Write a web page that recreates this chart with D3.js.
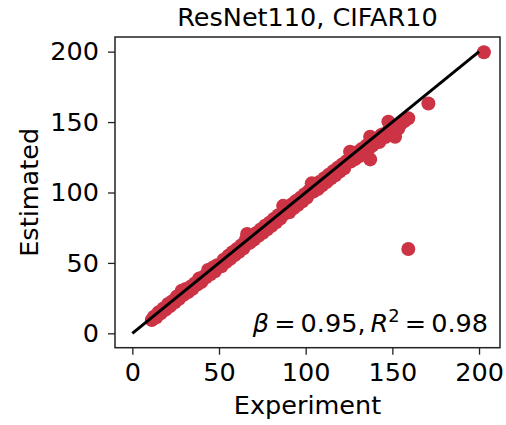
<!DOCTYPE html>
<html>
<head>
<meta charset="utf-8">
<script src="https://cdn.jsdelivr.net/npm/d3@7"></script>
<style>
  html, body { margin: 0; padding: 0; background: #fff; }
  svg text { font-family: "DejaVu Sans", sans-serif; fill: #000; }
</style>
</head>
<body>
<svg id="chart" width="506" height="425"></svg>
<script>
// Measured vs. estimated values for ResNet110 on CIFAR10
const experiment = [
  11.2, 12.5, 13.8, 15.1, 16.4, 17.9, 19.2, 20.6, 21.8, 23.1,
  24.5, 25.7, 27.0, 28.5, 29.6, 30.8, 32.2, 33.5, 34.7, 36.0,
  37.4, 38.6, 39.8, 41.1, 42.5, 43.7, 45.0, 46.3, 47.6, 48.9,
  50.2, 51.4, 52.7, 54.0, 55.3, 56.5, 57.8, 59.1, 60.3, 61.6,
  62.9, 64.1, 65.4, 66.2, 67.7, 69.0, 70.2, 71.5, 72.8, 74.0,
  75.3, 76.6, 77.8, 79.1, 80.4, 81.6, 82.9, 84.2, 85.4, 87.0,
  88.0, 89.3, 90.5, 91.8, 93.1, 94.3, 95.6, 96.9, 98.1, 99.4,
  100.7, 101.9, 103.5, 104.4, 105.7, 107.0, 108.2, 109.5, 110.8, 112.0,
  113.3, 114.6, 115.8, 117.1, 118.4, 119.6, 120.9, 122.2, 123.4, 125.6,
  126.0, 127.2, 128.5, 129.8, 131.0, 132.3, 133.6, 134.8, 136.1, 137.2,
  137.2, 138.5, 139.9, 141.0, 142.4, 143.6, 144.8, 146.0, 147.7, 148.3,
  149.5, 151.6, 152.0, 153.5, 155.0, 157.0, 159.2, 159.2, 170.8, 202.8
];
const estimated = [
  9.5, 11.8, 11.4, 14.9, 14.2, 17.6, 16.8, 20.9, 19.3, 22.8,
  22.0, 26.1, 24.5, 30.2, 27.4, 31.5, 29.4, 33.0, 31.6, 35.4,
  34.6, 38.9, 36.5, 40.2, 39.8, 45.0, 42.0, 46.5, 44.0, 48.3,
  47.5, 47.6, 52.3, 50.6, 55.0, 53.0, 57.6, 55.6, 59.9, 57.9,
  62.5, 60.4, 66.3, 70.5, 64.2, 68.7, 66.6, 71.3, 69.2, 73.8,
  71.4, 76.4, 73.9, 78.6, 76.3, 81.2, 78.8, 83.9, 81.5, 90.5,
  85.0, 88.7, 86.0, 91.4, 89.0, 93.9, 91.3, 96.2, 93.8, 98.8,
  96.4, 101.3, 106.5, 100.6, 104.9, 102.4, 107.6, 105.1, 110.1, 107.5,
  112.6, 110.0, 115.0, 112.2, 117.5, 114.9, 119.8, 117.1, 122.1, 129.0,
  122.0, 126.4, 123.7, 128.6, 125.8, 130.9, 128.0, 133.1, 130.3, 139.6,
  123.5, 133.4, 136.8, 137.0, 135.8, 140.9, 141.3, 139.4, 150.3, 145.0,
  142.6, 139.6, 147.4, 145.6, 149.0, 150.8, 152.7, 59.9, 163.2, 199.6
];
// Reference line y = x
const refLine = [[0, 0], [200, 200]];
const xTicks = [0, 50, 100, 150, 200];
const yTicks = [0, 50, 100, 150, 200];
const title = "ResNet110, CIFAR10";
const xLabel = "Experiment";
const yLabel = "Estimated";
const beta = "0.95";
const r2 = "0.98";

const svg = d3.select("#chart");
const box = { left: 115, right: 500, top: 37, bottom: 347.7 };
const fs = 25.5;

const x = d3.scaleLinear().domain([-10, 212.1]).range([box.left, box.right]);
const y = d3.scaleLinear().domain([-10.2, 210.4]).range([box.bottom, box.top]);

const points = experiment.map((e, i) => ({ e, s: estimated[i] }));

// scatter
svg.append("g")
  .selectAll("circle")
  .data(points)
  .join("circle")
  .attr("cx", d => x(d.e))
  .attr("cy", d => y(d.s))
  .attr("r", 7)
  .attr("fill", "#cc3344");

// reference line
svg.append("path")
  .datum(refLine)
  .attr("d", d3.line().x(d => x(d[0])).y(d => y(d[1])))
  .attr("stroke", "#000")
  .attr("stroke-width", 3)
  .attr("fill", "none");

// axes
const xAxis = svg.append("g")
  .attr("transform", `translate(0,${box.bottom})`)
  .call(d3.axisBottom(x).tickValues(xTicks).tickSize(7).tickPadding(8).tickFormat(d3.format("d")));
const yAxis = svg.append("g")
  .attr("transform", `translate(${box.left},0)`)
  .call(d3.axisLeft(y).tickValues(yTicks).tickSize(7).tickPadding(9).tickFormat(d3.format("d")));
[xAxis, yAxis].forEach(g => {
  g.select(".domain").remove();
  g.selectAll(".tick line").attr("stroke", "#222").attr("stroke-width", 1.3);
  g.selectAll(".tick text").attr("font-size", fs).attr("font-family", "DejaVu Sans").attr("fill", "#000");
});

// frame
svg.append("rect")
  .attr("x", box.left).attr("y", box.top)
  .attr("width", box.right - box.left).attr("height", box.bottom - box.top)
  .attr("fill", "none").attr("stroke", "#222").attr("stroke-width", 1.5);

// title and labels
svg.append("text")
  .attr("x", (box.left + box.right) / 2).attr("y", 26)
  .attr("text-anchor", "middle").attr("font-size", fs).text(title);
svg.append("text")
  .attr("x", (box.left + box.right) / 2).attr("y", 414)
  .attr("text-anchor", "middle").attr("font-size", fs).text(xLabel);
svg.append("text")
  .attr("transform", `translate(38,${(box.top + box.bottom) / 2}) rotate(-90)`)
  .attr("text-anchor", "middle").attr("font-size", fs).text(yLabel);

// fit statistics
const thin = "\u2009";
const stat = svg.append("text")
  .attr("x", 488).attr("y", 332)
  .attr("text-anchor", "end").attr("font-size", fs);
stat.append("tspan").attr("font-style", "italic").text("β");
stat.append("tspan").text(`${thin}=${thin}${beta},${thin}`);
stat.append("tspan").attr("font-style", "italic").text("R");
stat.append("tspan").attr("font-size", fs * 0.7).attr("dy", -10).text("2");
stat.append("tspan").attr("dy", 10).text(`${thin}=${thin}${r2}`);
</script>
</body>
</html>
